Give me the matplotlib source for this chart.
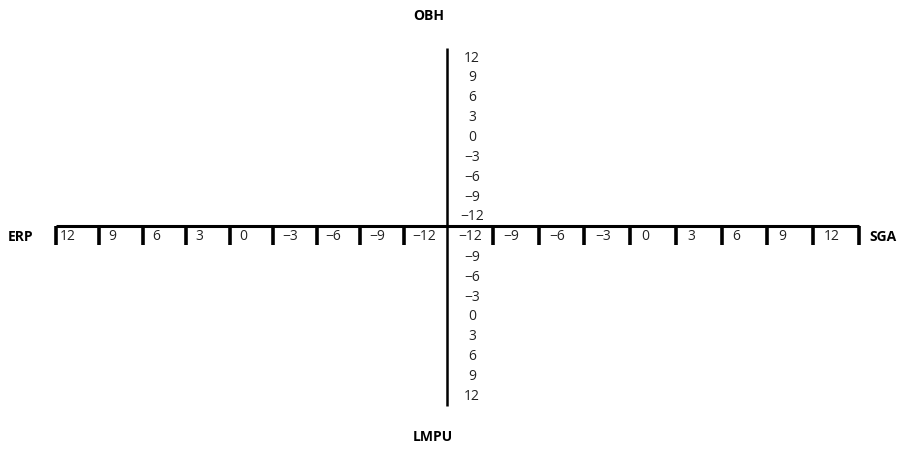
import matplotlib
matplotlib.use('Agg')
import matplotlib.pyplot as plt
import numpy as np

plt.rcParams['font.family'] = ['Open Sans', 'DejaVu Sans']

# scale values along each arm of the cross
left_values = [12, 9, 6, 3, 0, -3, -6, -9, -12]
right_values = [-12, -9, -6, -3, 0, 3, 6, 9, 12]
top_values = [12, 9, 6, 3, 0, -3, -6, -9, -12]
bottom_values = [-12, -9, -6, -3, 0, 3, 6, 9, 12]

top_name = 'OBH'
bottom_name = 'LMPU'
left_name = 'ERP'
right_name = 'SGA'


def fmt(v):
    return str(v).replace('-', '\u2212')


W, H = 908, 454
fig = plt.figure(figsize=(W / 100, H / 100), dpi=100)
ax = fig.add_axes([0, 0, 1, 1])
ax.set_xlim(0, W)
ax.set_ylim(H, 0)
ax.axis('off')

# layout of the cross (canvas pixels)
cx, cy = 447, 226
x_left, x_right = 56, 859
y_top, y_bottom = 48, 406
tick_len = 19
num_kw = dict(fontsize=10, color='#222222', va='center')
name_kw = dict(fontsize=10, fontweight='bold', color='black', va='center')

ax.plot([x_left, x_right], [cy, cy], color='black', lw=2.2, solid_capstyle='butt')
ax.plot([cx, cx], [y_top, y_bottom], color='black', lw=1.8, solid_capstyle='butt')

# horizontal arms: a tick opens each cell, the value sits inside it
left_edges = np.linspace(x_left, cx, len(left_values) + 1)[:-1]
right_edges = np.linspace(cx, x_right, len(right_values) + 1)

for x in list(left_edges) + list(right_edges[1:]):
    ax.plot([x, x], [cy, cy + tick_len], color='black', lw=2.6, solid_capstyle='butt')

for i, (x, v) in enumerate(zip(left_edges, left_values)):
    ax.text(x + (4 if i == 0 else 9), cy + 11, fmt(v), ha='left', **num_kw)
for x, v in zip(right_edges[:-1], right_values):
    ax.text(x + 11, cy + 11, fmt(v), ha='left', **num_kw)

# vertical arms: values stacked to the right of the line
top_rows = np.linspace(y_top + 10, cy - 9, len(top_values))
bottom_rows = np.linspace(cy + 12, y_bottom - 10, len(bottom_values))
for y, v in zip(top_rows, top_values):
    ax.text(cx + 25, y, fmt(v), ha='center', **num_kw)
# the first bottom row shares the horizontal arm's row, already labelled there
for y, v in zip(bottom_rows[1:], bottom_values[1:]):
    ax.text(cx + 25, y, fmt(v), ha='center', **num_kw)

ax.text(x_left - 23, cy + 11, left_name, ha='right', **name_kw)
ax.text(x_right + 10, cy + 11, right_name, ha='left', **name_kw)
ax.text(cx - 18, 16, top_name, ha='center', **name_kw)
ax.text(cx - 14, 437, bottom_name, ha='center', **name_kw)

fig.savefig('out.png', dpi=100)
